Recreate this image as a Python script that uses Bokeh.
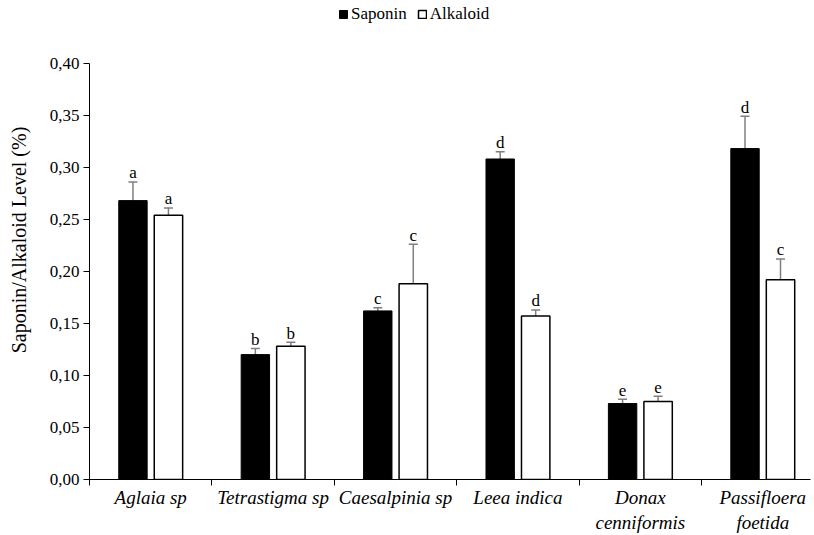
from bokeh.plotting import figure
from bokeh.models import (Range1d, FixedTicker, LinearAxis, CustomJSTickFormatter,
                          Whisker, TeeHead, ColumnDataSource, Legend, LegendItem)
from bokeh.transform import dodge
from bokeh.core.properties import value
from bokeh.embed import file_html
from bokeh.resources import INLINE

# ---------------- data ----------------
species = ["Aglaia sp", "Tetrastigma sp", "Caesalpinia sp", "Leea indica",
           "Donax\ncenniformis", "Passifloera\nfoetida"]
saponin = [0.268, 0.120, 0.162, 0.308, 0.073, 0.318]
saponin_upper = [0.286, 0.126, 0.165, 0.315, 0.077, 0.349]
saponin_lower = [0.261, 0.100, 0.157, 0.298, 0.069, 0.289]
saponin_letters = ["a", "b", "c", "d", "e", "d"]
alkaloid = [0.254, 0.128, 0.188, 0.157, 0.075, 0.192]
alkaloid_upper = [0.261, 0.132, 0.226, 0.163, 0.080, 0.212]
alkaloid_lower = [0.247, 0.123, 0.150, 0.149, 0.070, 0.170]
alkaloid_letters = ["a", "b", "c", "d", "e", "c"]
y_ticks = [0.00, 0.05, 0.10, 0.15, 0.20, 0.25, 0.30, 0.35, 0.40]
y_max = 0.40

FONT = "Liberation Serif"
ERR = "#7f7f7f"
OFF = 0.145
BW = 0.232

src = ColumnDataSource(dict(
    x=list(range(len(species))),
    saponin=saponin, sap_up=saponin_upper, sap_lo=saponin_lower, sap_let=saponin_letters,
    alkaloid=alkaloid, alk_up=alkaloid_upper, alk_lo=alkaloid_lower, alk_let=alkaloid_letters,
))

# frame extends to the top of the canvas so the legend can sit inside it;
# the y axis line itself stops at 0.40
p = figure(width=814, height=535, output_backend="svg", toolbar_location=None,
           x_range=Range1d(-0.5, 5.39), y_range=Range1d(0, 0.4603),
           x_axis_location=None, min_border_left=89, min_border_right=4,
           min_border_top=0, min_border_bottom=54)
p.grid.visible = False
p.outline_line_color = None
p.background_fill_color = "white"
p.border_fill_color = "white"

# y axis
ya = p.yaxis[0]
ya.ticker = FixedTicker(ticks=y_ticks)
ya.bounds = (0, y_max)
ya.formatter = CustomJSTickFormatter(code="return tick.toFixed(2).replace('.', ',');")
ya.major_tick_out = 6
ya.major_tick_in = 0
ya.minor_tick_line_color = None
ya.axis_line_color = "black"
ya.major_tick_line_color = "black"
ya.major_label_text_font = FONT
ya.major_label_text_font_size = "17px"
ya.major_label_text_color = "black"
ya.major_label_standoff = 4
ya.axis_label = "Saponin/Alkaloid Level (%)"
ya.axis_label_text_font = FONT
ya.axis_label_text_font_size = "20px"
ya.axis_label_text_font_style = "normal"
ya.axis_label_text_color = "black"
ya.axis_label_standoff = 17

# x axis: boundary ticks
xt = LinearAxis(ticker=FixedTicker(ticks=[-0.5, 0.5, 1.5, 2.5, 3.5, 4.5]))
xt.formatter = CustomJSTickFormatter(code="return '';")
xt.major_tick_out = 6
xt.major_tick_in = 0
xt.minor_tick_line_color = None
xt.major_label_standoff = 0
xt.major_label_text_font_size = "0px"
xt.axis_line_color = "black"
p.add_layout(xt, "below")

# x axis: category labels
xl = LinearAxis(ticker=FixedTicker(ticks=list(range(len(species)))))
xl.formatter = CustomJSTickFormatter(args=dict(labels=species),
                                     code="const i = Math.round(tick); return (i >= 0 && i < labels.length) ? labels[i] : '';")
xl.axis_line_color = None
xl.major_tick_line_color = None
xl.minor_tick_line_color = None
xl.major_tick_out = 0
xl.major_tick_in = 0
xl.major_label_standoff = 1
xl.major_label_text_font = FONT
xl.major_label_text_font_size = "19px"
xl.major_label_text_font_style = "italic"
xl.major_label_text_color = "black"
p.add_layout(xl, "below")

# bars
r1 = p.vbar(x=dodge("x", -OFF), top="saponin", width=BW, source=src,
            fill_color="black", line_color="black", line_width=1)
r2 = p.vbar(x=dodge("x", OFF), top="alkaloid", width=BW, source=src,
            fill_color="white", line_color="black", line_width=1.5)

# error bars
for base, up, lo in [(dodge("x", -OFF), "sap_up", "sap_lo"), (dodge("x", OFF), "alk_up", "alk_lo")]:
    w = Whisker(source=src, base=base, upper=up, lower=lo, line_color=ERR, line_width=1.5,
                upper_head=TeeHead(size=9, line_color=ERR, line_width=1.5),
                lower_head=TeeHead(size=9, line_color=ERR, line_width=1.5))
    p.add_layout(w)

# significance letters
for xx, yy, tt in [(dodge("x", -OFF), "sap_up", "sap_let"), (dodge("x", OFF), "alk_up", "alk_let")]:
    p.text(x=xx, y=yy, text=tt, source=src, text_align="center", text_baseline="alphabetic",
           y_offset=-9, text_font=value(FONT), text_font_size="17px", text_color="black")

legend = Legend(items=[LegendItem(label="Saponin", renderers=[r1]),
                       LegendItem(label="Alkaloid", renderers=[r2])],
                orientation="horizontal", location=(249, 455),
                glyph_width=10, glyph_height=10, label_standoff=3, spacing=10,
                label_text_font=FONT, label_text_font_size="17px", label_text_color="black",
                label_height=17, padding=0, margin=0,
                background_fill_alpha=0, border_line_color=None)
p.add_layout(legend)

open("out.html", "w").write(file_html(p, INLINE))
